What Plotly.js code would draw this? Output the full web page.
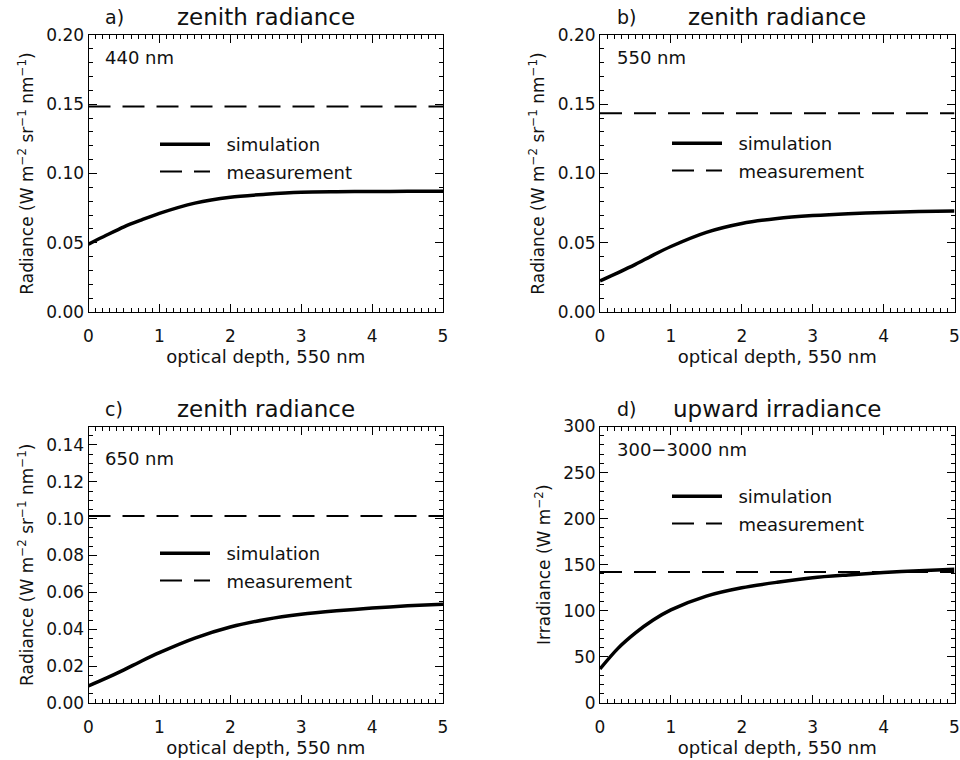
<!DOCTYPE html>
<html>
<head>
<meta charset="utf-8">
<script src="https://cdn.plot.ly/plotly-3.0.1.min.js"></script>
<style>html,body{margin:0;padding:0;background:#fff;}#chart{width:960px;height:760px;}</style>
</head>
<body>
<div id="chart"></div>
<script>
// optical depth at 550 nm
const tau = [0, 0.25, 0.5, 0.75, 1, 1.5, 2, 2.5, 3, 3.5, 4, 4.5, 5];
const tauMeas = [0, 5];

// a) zenith radiance 440 nm
const simA = [0.0490, 0.0554, 0.0615, 0.0665, 0.0712, 0.0786, 0.0829, 0.0850, 0.0864, 0.0868, 0.0870, 0.0871, 0.0872];
const measA = 0.1483;
// b) zenith radiance 550 nm
const simB = [0.0225, 0.0283, 0.0344, 0.0411, 0.0473, 0.0575, 0.0639, 0.0675, 0.0696, 0.0710, 0.0719, 0.0725, 0.0729];
const measB = 0.1435;
// c) zenith radiance 650 nm
const simC = [0.0093, 0.0135, 0.0180, 0.0228, 0.0273, 0.0352, 0.0412, 0.0453, 0.0481, 0.0500, 0.0515, 0.0527, 0.0536];
const measC = 0.1015;
// d) upward irradiance 300-3000 nm
const simD = [37, 59, 76, 90, 101, 116, 125, 131, 136, 139, 141.5, 143.5, 145];
const measD = 142;

const panelLetters = ['a)', 'b)', 'c)', 'd)'];
const panelTitles = ['zenith radiance', 'zenith radiance', 'zenith radiance', 'upward irradiance'];
const bandLabels = ['440 nm', '550 nm', '650 nm', '300−3000 nm'];
const xTitle = 'optical depth, 550 nm';
const radTitle = 'Radiance (W m<sup>−2</sup> sr<sup>−1</sup> nm<sup>−1</sup>)';
const irrTitle = 'Irradiance (W m<sup>−2</sup>)';
const seriesNames = ['simulation', 'measurement'];

const FONT = 'DejaVu Sans, sans-serif';
const INK = '#111';
const GAP = '\u00a0\u00a0';

const sims = [simA, simB, simC, simD];
const meas = [measA, measB, measC, measD];
const legendIds = ['legend', 'legend2', 'legend3', 'legend4'];

const traces = [];
for (let i = 0; i < 4; i++) {
  const xa = 'x' + (i === 0 ? '' : i + 1);
  const ya = 'y' + (i === 0 ? '' : i + 1);
  traces.push({
    x: tau, y: sims[i], xaxis: xa, yaxis: ya, type: 'scatter', mode: 'lines',
    name: GAP + seriesNames[0], legend: legendIds[i], legendgroup: 'sim' + i,
    line: {color: '#000', width: 3.5, shape: 'spline', smoothing: 0.8},
    hoverinfo: 'skip'
  });
  traces.push({
    x: tauMeas, y: [meas[i], meas[i]], xaxis: xa, yaxis: ya, type: 'scatter', mode: 'lines',
    name: GAP + seriesNames[1], legend: legendIds[i], legendgroup: 'meas' + i,
    line: {color: '#000', width: 2, dash: '22px,12px'},
    hoverinfo: 'skip'
  });
}

const W = 960, H = 760;
// pixel frames of the four plot areas
const colX = [[88.5, 443], [600, 954.5]];
const rowY = [[35, 312], [426.5, 703]];
function dx(p) { return [p[0] / W, p[1] / W]; }
function dy(p) { return [1 - p[1] / H, 1 - p[0] / H]; }

function xaxis(col, anchor) {
  return {
    domain: dx(colX[col]), anchor: anchor, range: [0, 5], dtick: 1, tick0: 0,
    ticks: 'inside', ticklen: 8, tickwidth: 1, tickcolor: '#000',
    showline: true, mirror: 'ticks', linecolor: '#000', linewidth: 1,
    showgrid: false, zeroline: false, automargin: false,
    minor: {dtick: 0.1, tick0: 0, ticks: 'inside', ticklen: 4, tickcolor: '#000', showgrid: false},
    tickfont: {family: FONT, size: 17, color: INK}, ticklabelstandoff: 9,
    title: {text: xTitle, font: {family: FONT, size: 18, color: INK}, standoff: 1},
    fixedrange: true
  };
}
function yaxis(row, anchor, range, dtick, minorDtick, fmt, title) {
  return {
    domain: dy(rowY[row]), anchor: anchor, range: range, dtick: dtick, tick0: 0,
    ticks: 'inside', ticklen: 8, tickwidth: 1, tickcolor: '#000',
    showline: true, mirror: 'ticks', linecolor: '#000', linewidth: 1,
    showgrid: false, zeroline: false, automargin: false, tickformat: fmt,
    minor: {dtick: minorDtick, tick0: 0, ticks: 'inside', ticklen: 4, tickcolor: '#000', showgrid: false},
    tickfont: {family: FONT, size: 17, color: INK},
    title: {text: title, font: {family: FONT, size: 17, color: INK}, standoff: 8},
    fixedrange: true
  };
}

const layout = {
  width: W, height: H,
  margin: {l: 0, r: 0, t: 0, b: 0},
  paper_bgcolor: '#fff', plot_bgcolor: '#fff',
  font: {family: FONT, color: INK},
  showlegend: true,
  xaxis: xaxis(0, 'y'), yaxis: yaxis(0, 'x', [0, 0.2], 0.05, 0.01, '.2f', radTitle),
  xaxis2: xaxis(1, 'y2'), yaxis2: yaxis(0, 'x2', [0, 0.2], 0.05, 0.01, '.2f', radTitle),
  xaxis3: xaxis(0, 'y3'), yaxis3: yaxis(1, 'x3', [0, 0.15], 0.02, 0.005, '.2f', radTitle),
  xaxis4: xaxis(1, 'y4'), yaxis4: yaxis(1, 'x4', [0, 300], 50, 10, 'd', irrTitle),
  annotations: [],
  hovermode: false
};

const legPos = [[155, 126], [667, 125], [155, 535], [667, 478]];
for (let i = 0; i < 4; i++) {
  layout[legendIds[i]] = {
    x: legPos[i][0] / W, y: 1 - legPos[i][1] / H, xanchor: 'left', yanchor: 'top',
    bgcolor: 'rgba(0,0,0,0)', borderwidth: 0,
    font: {family: FONT, size: 18, color: INK},
    traceorder: 'grouped', tracegroupgap: 1, itemwidth: 50,
    itemclick: false, itemdoubleclick: false
  };
}

const bandY = [0.917, 0.917, 0.884, 0.917];
for (let i = 0; i < 4; i++) {
  const sfx = i === 0 ? '' : String(i + 1);
  layout.annotations.push({
    xref: 'x' + sfx + ' domain', yref: 'y' + sfx + ' domain',
    x: 0.042, y: 1.065, xanchor: 'left', yanchor: 'middle', showarrow: false,
    text: panelLetters[i], font: {family: FONT, size: 19, color: INK}
  });
  layout.annotations.push({
    xref: 'x' + sfx + ' domain', yref: 'y' + sfx + ' domain',
    x: 0.5, y: 1.065, xanchor: 'center', yanchor: 'middle', showarrow: false,
    text: panelTitles[i], font: {family: FONT, size: 23, color: INK}
  });
  layout.annotations.push({
    xref: 'x' + sfx + ' domain', yref: 'y' + sfx + ' domain',
    x: 0.041, y: bandY[i], xanchor: 'left', yanchor: 'middle', showarrow: false,
    text: bandLabels[i], font: {family: FONT, size: 18, color: INK}
  });
}

Plotly.newPlot('chart', traces, layout, {displayModeBar: false, staticPlot: true});
</script>
</body>
</html>
